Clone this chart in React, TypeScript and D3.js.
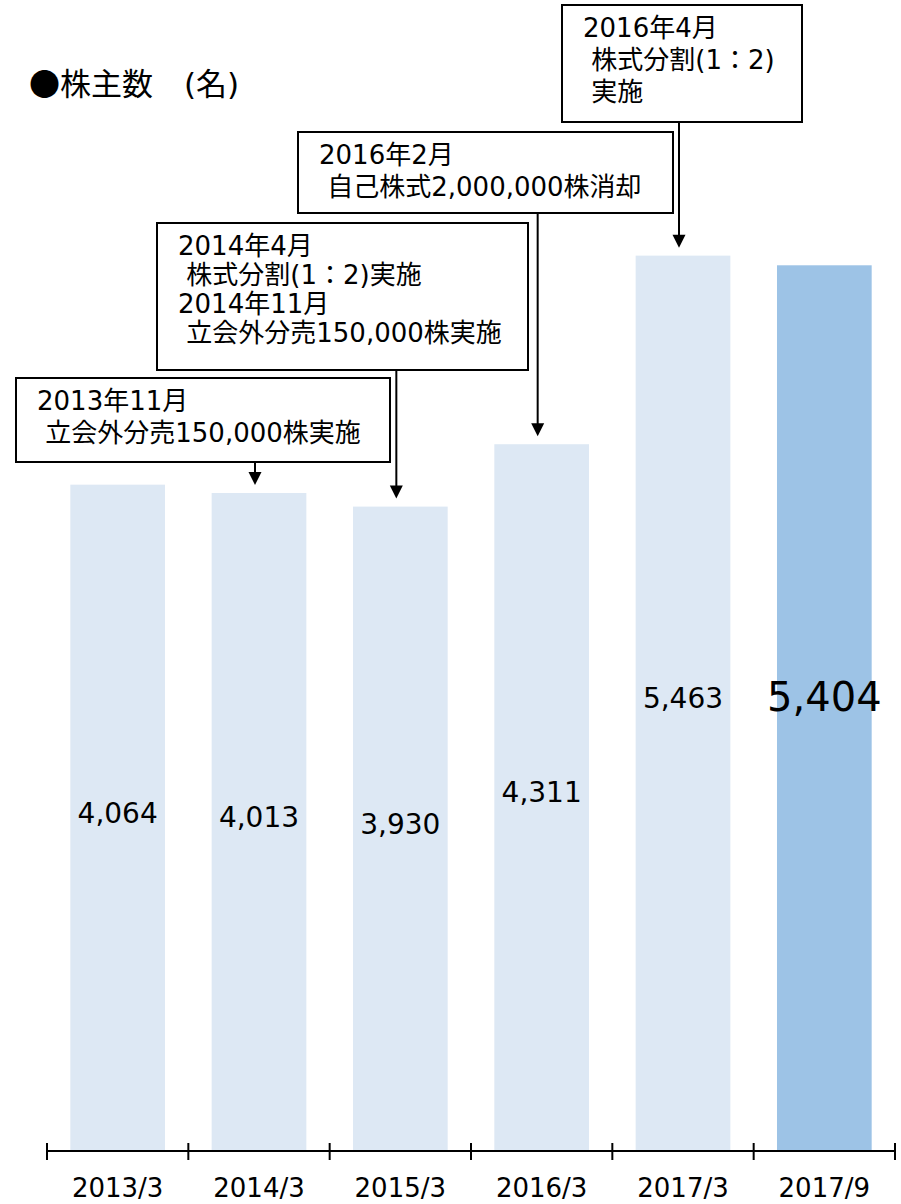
import React from "react"
import * as d3 from "d3"

// 株主数の推移
const categories = ["2013/3", "2014/3", "2015/3", "2016/3", "2017/3", "2017/9"]
const holders = [4064, 4013, 3930, 4311, 5463, 5404]

const noteTexts = [
  ["2013年11月", " 立会外分売150,000株実施"],
  ["2014年4月", " 株式分割(1：2)実施", "2014年11月", " 立会外分売150,000株実施"],
  ["2016年2月", " 自己株式2,000,000株消却"],
  ["2016年4月", " 株式分割(1：2)", " 実施"],
]
const noteTargets = ["2014/3", "2015/3", "2016/3", "2017/3"]

// box layout (pixels)
const noteBoxes = [
  { x: 16, y: 378, w: 374, h: 84, step: 32 },
  { x: 157, y: 223, w: 371, h: 147, step: 29 },
  { x: 298, y: 132, w: 375, h: 81, step: 32 },
  { x: 562, y: 5, w: 240, h: 117, step: 32 },
]

const W = 901
const H = 1204
const FONT = "'DejaVu Sans', 'Noto Sans CJK JP', sans-serif"
const CJK = "'Noto Sans CJK JP', sans-serif"

export default function App() {
  const x = d3.scaleBand().domain(categories).range([47, 895]).paddingInner(0.33).paddingOuter(0.165)
  const y = d3.scaleLinear().domain([0, 7000]).range([1150, 4])
  const axisY = 1151
  const bounds = d3.range(categories.length + 1).map((i) => 47 + i * x.step())

  return (
    <svg width={W} height={H} style={{ position: "absolute", left: 0, top: 0, background: "#fff" }} fontFamily={FONT}>
      <text x={29} y={95} fontSize={31} fill="#000" style={{ whiteSpace: "pre" }}>
        <tspan fontFamily={CJK}>●株主数　</tspan>
        <tspan>(</tspan>
        <tspan fontFamily={CJK}>名</tspan>
        <tspan>)</tspan>
      </text>

      <g className="bars">
        {categories.map((c, i) => (
          <rect
            key={c}
            x={x(c)}
            y={y(holders[i])}
            width={x.bandwidth()}
            height={y(0) - y(holders[i])}
            fill={i === categories.length - 1 ? "#9DC3E6" : "#DDE8F4"}
          />
        ))}
      </g>

      <g className="values">
        {categories.map((c, i) => {
          const last = i === categories.length - 1
          const fs = last ? 40 : 28
          const mid = (y(holders[i]) + y(0)) / 2
          return (
            <text
              key={c}
              x={x(c)! + x.bandwidth() / 2}
              y={last ? mid + 3 : mid - 5 + fs * 0.365}
              textAnchor="middle"
              fontSize={fs}
              fill="#000"
            >
              {d3.format(",")(holders[i])}
            </text>
          )
        })}
      </g>

      <g className="x-axis">
        <line x1={bounds[0]} x2={bounds[bounds.length - 1]} y1={axisY} y2={axisY} stroke="#000" strokeWidth={2} />
        {bounds.map((b, i) => (
          <line key={i} x1={b} x2={b} y1={axisY - 8} y2={axisY + 9} stroke="#000" strokeWidth={2} />
        ))}
        {categories.map((c) => (
          <text key={c} x={x(c)! + x.bandwidth() / 2} y={1197} textAnchor="middle" fontSize={26} fill="#000">
            {c}
          </text>
        ))}
      </g>

      <g className="notes">
        {noteTexts.map((lines, i) => {
          const b = noteBoxes[i]
          const cat = noteTargets[i]
          const ax = x(cat)! + x.bandwidth() / 2 - 4
          const tip = y(holders[categories.indexOf(cat)]) - 8
          return (
            <g key={i}>
              <rect x={b.x} y={b.y} width={b.w} height={b.h} fill="#fff" stroke="#000" strokeWidth={2} />
              {lines.map((l, j) => (
                <text
                  key={j}
                  x={b.x + 21}
                  y={b.y + 32 + j * b.step}
                  fontSize={26}
                  fill="#000"
                  style={{ whiteSpace: "pre" }}
                >
                  {l}
                </text>
              ))}
              <line x1={ax} x2={ax} y1={b.y + b.h} y2={tip - 12} stroke="#000" strokeWidth={2} />
              <path d={`M${ax - 6.5},${tip - 13}L${ax + 6.5},${tip - 13}L${ax},${tip}Z`} fill="#000" />
            </g>
          )
        })}
      </g>
    </svg>
  )
}
